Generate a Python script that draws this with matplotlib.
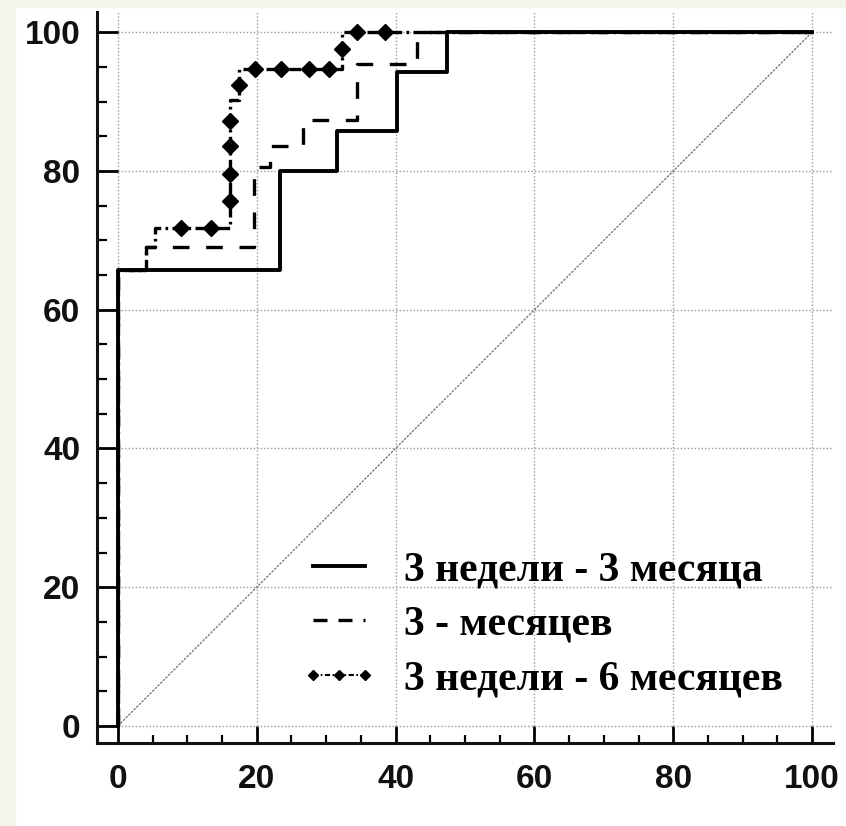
import matplotlib
matplotlib.use("Agg")
import matplotlib.pyplot as plt
from matplotlib.lines import Line2D
from matplotlib.patches import Rectangle
from matplotlib.ticker import MultipleLocator

# ROC operating points (FPR %, TPR %)
fpr_3w3m = [0, 0, 23.3, 31.5, 40.2, 47.4, 100]
tpr_3w3m = [0, 65.7, 80.0, 85.7, 94.3, 100, 100]

fpr_3m = [0, 0, 4.0, 19.6, 21.9, 26.6, 34.4, 43.1, 100]
tpr_3m = [0, 65.7, 69.1, 80.6, 83.6, 87.3, 95.4, 100, 100]

fpr_3w6m = [0, 0, 4.0, 5.3, 16.2, 17.5, 32.3, 100]
tpr_3w6m = [0, 65.7, 69.1, 71.7, 90.2, 94.7, 100, 100]

# diamond markers on the 3w-6m curve
mk_x = [9.1, 13.4, 16.2, 16.2, 16.2, 16.2, 17.5, 19.7, 23.5, 27.5, 30.4, 32.3, 34.5, 38.5]
mk_y = [71.7, 71.7, 75.6, 79.6, 83.6, 87.2, 92.4, 94.7, 94.7, 94.7, 94.7, 97.6, 100, 100]

labels = ["3 недели - 3 месяца", "3 - месяцев", "3 недели - 6 месяцев"]
ticks = [0, 20, 40, 60, 80, 100]

W, H = 846, 826
fig = plt.figure(figsize=(W / 100, H / 100), dpi=100, facecolor="white")

# light strips at the left / top edge of the original screenshot
fig.patches.append(Rectangle((0, 0), 15 / W, 1, transform=fig.transFigure,
                             color="#F3F5EC", zorder=-10))
fig.patches.append(Rectangle((0, 1 - 7 / H), 1, 7 / H, transform=fig.transFigure,
                             color="#F3F5EC", zorder=-10))

ax = fig.add_axes([97 / W, (H - 743) / H, (833 - 97) / W, (743 - 12) / H])
ax.set_facecolor("white")
ax.set_xlim(-3.0, 103.0)
ax.set_ylim(-2.45, 102.9)

for s in ["top", "right"]:
    ax.spines[s].set_visible(False)
for s in ["left", "bottom"]:
    ax.spines[s].set_linewidth(2.2)
    ax.spines[s].set_color("#111111")

ax.xaxis.set_minor_locator(MultipleLocator(5))
ax.yaxis.set_minor_locator(MultipleLocator(5))
ax.set_xticks(ticks)
ax.set_yticks(ticks)
ax.tick_params(axis="y", which="major", direction="in", length=15, width=2.0, pad=12)
ax.tick_params(axis="y", which="minor", direction="in", length=7, width=1.6)
ax.tick_params(axis="x", which="major", direction="in", length=12.5, width=2.0, pad=15)
ax.tick_params(axis="x", which="minor", direction="in", length=6, width=1.6)
for lab in ax.get_xticklabels() + ax.get_yticklabels():
    lab.set_fontfamily("Liberation Sans")
    lab.set_fontweight("bold")
    lab.set_fontsize(24)
    lab.set_color("#111111")

ax.grid(True, which="major", linestyle=(0, (1, 1.5)), color="#9a9a9a", linewidth=1.0)
ax.set_axisbelow(True)

# chance diagonal
ax.plot([0, 100], [0, 100], color="#707070", linewidth=0.9, linestyle=(0, (2, 1)), zorder=2)

ax.plot(fpr_3w6m, tpr_3w6m, drawstyle="steps-post", color="black", linewidth=2.4,
        linestyle=(0, (3.5, 1.3, 0.8, 1.3)), zorder=3)
ax.plot(mk_x, mk_y, linestyle="none", marker="D", markersize=8, color="black", zorder=4)
ax.plot(fpr_3m, tpr_3m, drawstyle="steps-post", color="black", linewidth=2.4,
        linestyle=(0, (5, 5)), zorder=3)
ax.plot(fpr_3w3m, tpr_3w3m, drawstyle="steps-post", color="black", linewidth=2.8,
        linestyle="-", zorder=5)

handles = [
    Line2D([], [], color="black", linewidth=2.8, linestyle="-"),
    Line2D([], [], color="black", linewidth=2.4, linestyle=(0, (4.2, 3.3))),
    Line2D([], [], color="black", linewidth=1.5, linestyle=(0, (2.5, 1.2, 0.8, 1.2)),
           marker="D", markersize=5.5),
]
leg = ax.legend(handles, labels, loc="upper left",
                bbox_to_anchor=(300 / W, (H - 551) / H), bbox_transform=fig.transFigure,
                frameon=False, handlelength=1.85, handletextpad=0.65, labelspacing=0.4,
                numpoints=3, borderpad=0, borderaxespad=0,
                prop={"family": "Liberation Serif", "weight": "bold", "size": 30})

fig.savefig("out.png", dpi=100, facecolor=fig.get_facecolor())
